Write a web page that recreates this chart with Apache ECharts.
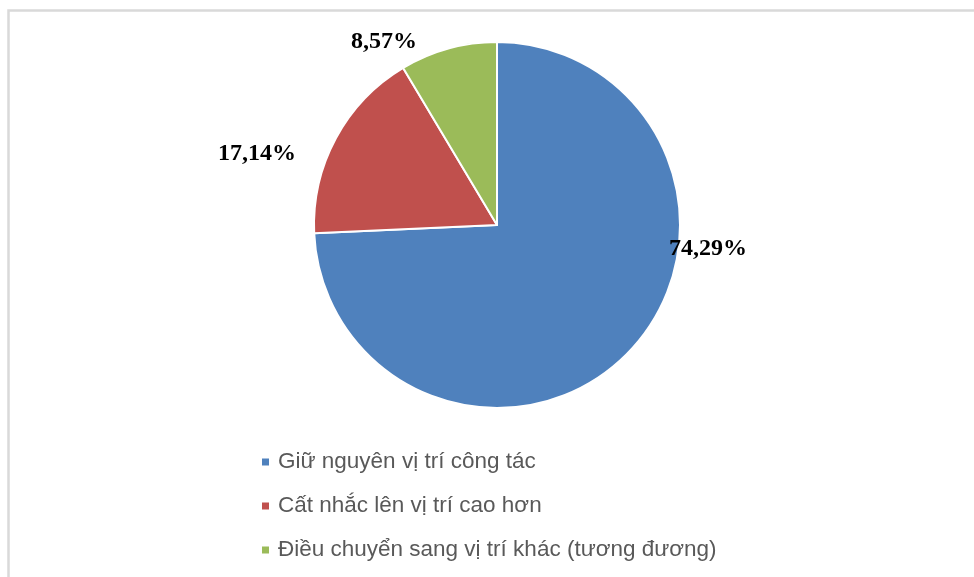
<!DOCTYPE html>
<html>
<head>
<meta charset="utf-8">
<script src="https://cdn.jsdelivr.net/npm/echarts@6/dist/echarts.min.js"></script>
<style>
  html, body { margin: 0; padding: 0; background: #fff; }
  #chart { width: 974px; height: 577px; }
</style>
</head>
<body>
<div id="chart"></div>
<script>
// categories and shares (%)
const categories = [
  'Giữ nguyên vị trí công tác',
  'Cất nhắc lên vị trí cao hơn',
  'Điều chuyển sang vị trí khác (tương đương)'
]
const values = [74.29, 17.14, 8.57]
const labels = ['74,29%', '17,14%', '8,57%']
const colors = ['#4f81bd', '#c0504d', '#9bbb59']

// label anchor points, like the Excel "best fit" placement
const labelAnchors = [[708, 249], [257, 154], [384, 42]]

const chart = echarts.init(document.getElementById('chart'), null, { renderer: 'canvas' })

const option = {
  backgroundColor: '#ffffff',
  animation: false,
  graphic: [
    {
      type: 'rect',
      shape: { x: 8.5, y: 10.5, width: 1000, height: 1000 },
      style: { fill: 'none', stroke: '#d9d9d9', lineWidth: 2.5 },
      silent: true,
      z: -1
    }
  ],
  legend: {
    orient: 'vertical',
    left: 260,
    top: 450,
    padding: 0,
    itemWidth: 9,
    itemHeight: 9,
    itemGap: 20,
    icon: 'rect',
    data: categories,
    textStyle: {
      fontFamily: 'Liberation Sans, Arial, sans-serif',
      fontSize: 22.5,
      lineHeight: 24,
      color: '#595959',
      padding: [0, 0, 0, 3]
    }
  },
  series: [
    {
      type: 'pie',
      center: [497, 225],
      radius: 183,
      startAngle: 90,
      clockwise: true,
      itemStyle: { borderColor: '#ffffff', borderWidth: 2 },
      label: {
        show: true,
        position: 'inside',
        formatter: p => labels[p.dataIndex],
        fontFamily: 'Liberation Serif, Times New Roman, serif',
        fontWeight: 'bold',
        fontSize: 24,
        color: '#000000'
      },
      labelLine: { show: false },
      labelLayout: p => ({
        x: labelAnchors[p.dataIndex][0],
        y: labelAnchors[p.dataIndex][1],
        align: 'center',
        verticalAlign: 'middle'
      }),
      emphasis: { disabled: true },
      data: categories.map((name, i) => ({
        name: name,
        value: values[i],
        itemStyle: { color: colors[i] }
      }))
    }
  ]
}

chart.setOption(option)
</script>
</body>
</html>
